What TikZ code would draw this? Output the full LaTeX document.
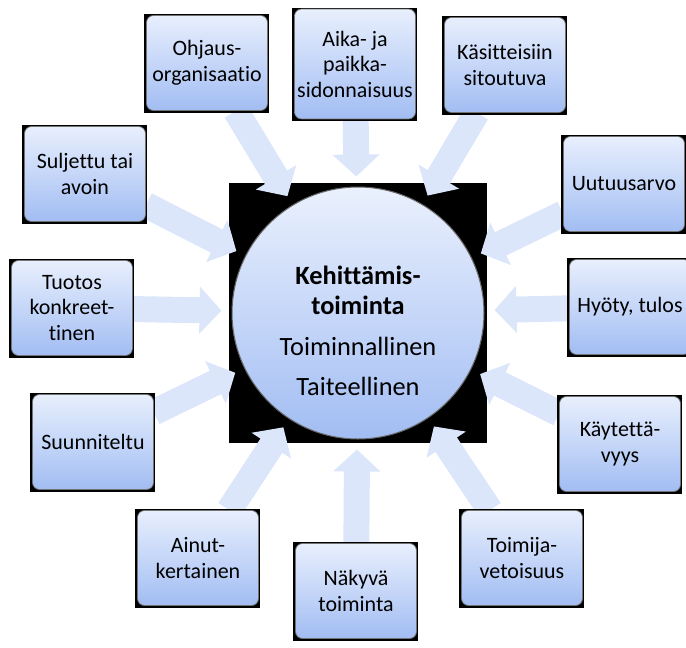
\documentclass[tikz,border=0pt]{standalone}
\usepackage{fontspec}
\setmainfont{Carlito}[Ligatures=NoCommon]
\usetikzlibrary{arrows.meta,backgrounds}

\definecolor{boxtop}{HTML}{E8EFFD}
\definecolor{boxbot}{HTML}{A2BDF3}
\definecolor{arrowblue}{HTML}{DCE6FA}

\tikzset{
    idea/.style={rectangle, rounded corners=0.14cm, minimum width=2.42cm,
        minimum height=1.9cm, inner sep=1pt, align=center,
        top color=boxtop, bottom color=boxbot, draw=black!55, line width=0.4pt,
        font=\fontsize{12.5}{14.5}\selectfont},
    core/.style={circle, minimum size=5.04cm, inner sep=0pt,
        top color=boxtop!90!white, bottom color=boxbot, draw=black!60, line width=0.6pt},
    pointer/.style={draw=arrowblue, line width=0.52cm,
        -{Triangle[length=0.44cm, width=0.92cm]}, shorten >=0.2cm}
}

\begin{document}
\begin{tikzpicture}[x=0.02cm, y=0.02cm]
    \useasboundingbox (0,0) rectangle (686,647);
    % the middle
    \node[core] (c) at (358,334) {};
    \node[align=center, font=\fontsize{15}{17}\selectfont] (ctext) at (358,316)
        {\textbf{Kehittämis-}\\\textbf{toiminta}\\[6pt]Toiminnallinen\\[6pt]Taiteellinen};
    % the boxes round it
    \node[idea] (b1) at (207,584) {Ohjaus-\\organisaatio};
    \node[idea, minimum height=2.2cm] (b2) at (355,583) {Aika- ja\\paikka-\\sidonnaisuus};
    \node[idea] (b3) at (505,582) {Käsitteisiin\\sitoutuva};
    \node[idea] (b4) at (85,473) {Suljettu tai\\avoin};
    \node[idea] (b5) at (624,463) {Uutuusarvo};
    \node[idea] (b6) at (72,339) {Tuotos\\konkreet-\\tinen};
    \node[idea] (b7) at (630,340) {Hyöty, tulos};
    \node[idea] (b8) at (93,205) {Suunniteltu};
    \node[idea] (b9) at (620,203) {Käytettä-\\vyys};
    \node[idea] (b10) at (198,89) {Ainut-\\kertainen};
    \node[idea] (b11) at (356,56) {Näkyvä\\toiminta};
    \node[idea] (b12) at (522,89) {Toimija-\\vetoisuus};
    % black backs and the arrows
    \begin{scope}[on background layer]
        \fill[black] (c.center) ++(-129,-130) rectangle ++(258,260);
        \foreach \b in {b1,b2,b3,b4,b5,b6,b7,b8,b9,b10,b11,b12}
            \draw[pointer] (\b) -- (c);
        \foreach \b in {b1,b2,b3,b4,b5,b6,b7,b8,b9,b10,b11,b12}
            \fill[black] ([shift={(-2,-2)}]\b.south west) rectangle ([shift={(1,1)}]\b.north east);
    \end{scope}
\end{tikzpicture}
\end{document}
